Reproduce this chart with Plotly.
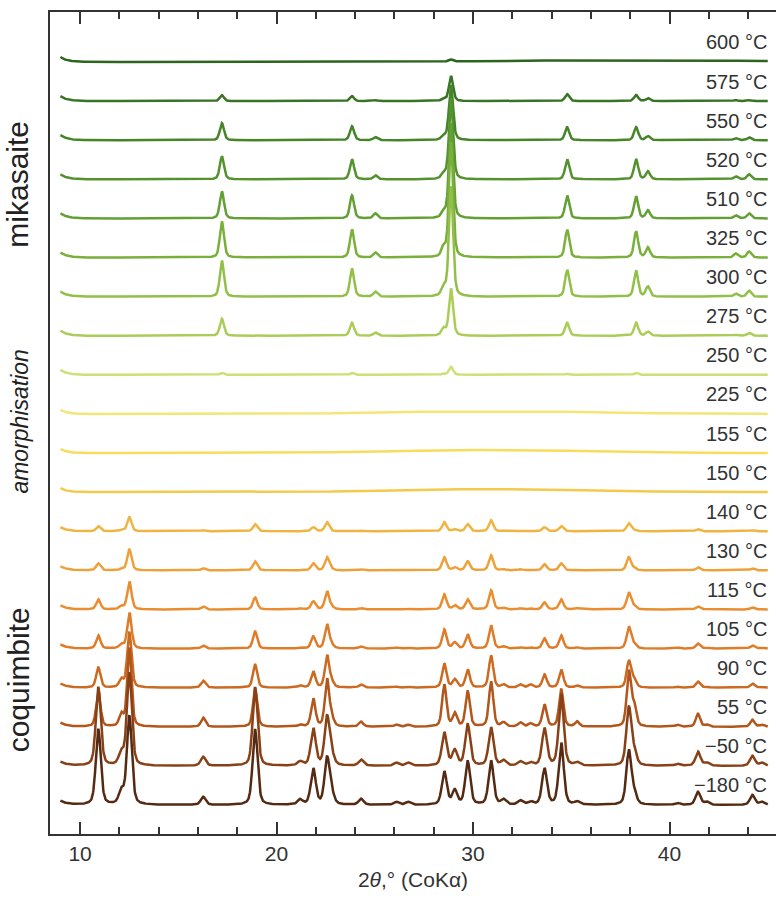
import numpy as np
import plotly.graph_objects as go

# ---------------- data ----------------
# temperatures, top to bottom
temps_mik = ["600 °C", "575 °C", "550 °C", "520 °C", "510 °C", "325 °C", "300 °C", "275 °C", "250 °C"]
temps_amo = ["225 °C", "155 °C", "150 °C"]
temps_coq = ["140 °C", "130 °C", "115 °C", "105 °C", "90 °C", "55 °C", "−50 °C", "−180 °C"]

# mikasaite reflections (2theta, CoKa) and intensities (a.u.)
mik_pos = [17.22, 23.84, 25.03, 28.50, 28.88, 34.79, 38.30, 38.90, 43.37, 44.05]
mik_600 = [0, 0, 0, 0, 2, 0, 0, 0, 0, 0]
mik_575 = [6, 5, 1, 2, 25, 7, 6, 3, 1, 1]
mik_550 = [17, 14, 3, 4, 55, 13, 13, 4, 2, 3]
mik_520 = [23, 20, 4, 5, 80, 20, 20, 8, 3, 5]
mik_510 = [27, 23, 5, 6, 95, 23, 22, 8, 3, 5]
mik_325 = [36, 28, 5, 9, 115, 28, 26, 10, 4, 6]
mik_300 = [36, 28, 5, 9, 110, 27, 26, 10, 3, 6]
mik_275 = [17, 13, 3, 7, 47, 13, 13, 4, 1, 3]
mik_250 = [2, 2, 0, 1, 8, 1, 2, 0, 0, 0]

# amorphous broad hump intensity
amo_hump = [3, 3, 3]

# coquimbite reflections and intensities (a.u.)
coq_pos = [10.93, 12.10, 12.51, 16.27, 18.91, 21.20, 21.87, 22.57, 22.80, 24.30,
           26.10, 26.70, 28.54, 29.07, 29.73, 30.92, 31.55, 32.41, 32.92, 33.64,
           34.49, 35.30, 37.93, 38.20, 40.40, 41.45, 41.90, 44.22, 44.70]
coq_140 = [5, 1, 14, 1, 7, 0, 4, 9, 0, 0.5, 0, 0, 9, 2, 7, 11, 0.5, 0.5, 0, 4, 5, 0, 8, 1, 0, 2, 0, 1, 0]
coq_130 = [7, 1, 21, 2, 9, 0, 7, 13, 1, 1, 0, 0, 13, 3, 9, 15, 1, 1, 0.5, 6, 7, 0.5, 13, 2, 0, 3, 0, 2, 0]
coq_115 = [10, 3, 28, 3, 12, 1, 8, 18, 2, 1.5, 0.5, 0.5, 15, 4, 10, 19, 1.5, 1, 1, 7, 10, 1, 17, 3, 0.5, 3, 0.5, 2, 0.5]
coq_105 = [13, 4, 36, 3, 17, 1, 12, 24, 3, 2, 1, 1, 19, 6, 14, 23, 2, 1, 1, 10, 13, 1, 22, 4, 1, 5, 1, 3, 1]
coq_90 = [20, 8, 55, 7, 23, 2, 16, 32, 5, 3, 1, 1, 24, 8, 18, 32, 3, 3, 3, 13, 18, 2, 27, 8, 1, 6, 1, 4, 1]
coq_55 = [36, 12, 78, 9, 38, 2, 28, 47, 8, 5, 2, 2, 42, 13, 35, 45, 4, 4, 3, 22, 37, 5, 55, 20, 2, 13, 2, 7, 2]
coq_m50 = [78, 12, 92, 9, 78, 4, 37, 48, 10, 6, 3, 3, 33, 15, 41, 38, 5, 4, 3, 37, 72, 3, 58, 12, 2, 14, 3, 10, 3]
coq_m180 = [75, 13, 88, 8, 75, 5, 36, 46, 10, 6, 3, 3, 33, 14, 43, 44, 5, 4, 3, 36, 62, 3, 54, 10, 2, 13, 3, 10, 3]

colors = ["#2d641e", "#387423", "#458428", "#53922e", "#62a034", "#7aaf3c", "#92bf48", "#abcd58", "#cde074",
          "#f2e677", "#f6dd5c", "#f4c94c",
          "#f0b442", "#eda13a", "#e88d30", "#df7c2a", "#cd6a22", "#b2561c", "#884016", "#552a12"]

# ---------------- build patterns ----------------
x = np.arange(9.0, 45.0001, 0.02)
SCALE = 1 / 39.1  # a.u. -> offset units


def profile(pos, amp, fwhm):
    y = np.zeros_like(x)
    for p, a in zip(pos, amp):
        if a == 0:
            continue
        g = np.exp(-4 * np.log(2) * ((x - p) / fwhm) ** 2)
        l = 1 / (1 + 4 * ((x - p) / fwhm) ** 2)
        y += a * (0.6 * g + 0.4 * l)
    return y


def lowangle(a=5):
    return a * np.exp(-(x - 9.0) / 0.35)


patterns = []
mik_sets = [mik_600, mik_575, mik_550, mik_520, mik_510, mik_325, mik_300, mik_275, mik_250]
for i, amps in enumerate(mik_sets):
    y = profile(mik_pos, amps, 0.25) + lowangle()
    if i == 0:
        y += 2 * np.exp(-((x - 38) / 8) ** 2)
    patterns.append(y)
for h in amo_hump:
    y = h * np.exp(-((x - 31) / 7) ** 2) + lowangle(4)
    patterns.append(y)
coq_sets = [coq_140, coq_130, coq_115, coq_105, coq_90, coq_55, coq_m50, coq_m180]
for i, amps in enumerate(coq_sets):
    w = 0.26 if i < 6 else 0.3
    y = profile(coq_pos, amps, w) + lowangle(4)
    patterns.append(y)

labels = temps_mik + temps_amo + temps_coq
n = len(labels)

font_f = "Liberation Sans, Arial, sans-serif"

fig = go.Figure()
for k, (lab, y) in enumerate(zip(labels, patterns)):
    off = n - 1 - k
    fig.add_trace(go.Scatter(x=x, y=off + y * SCALE, mode="lines",
                             line=dict(color=colors[k], width=2.5), name=lab,
                             showlegend=False, hoverinfo="skip"))
    fig.add_annotation(x=0.99, xref="paper", y=off + 0.5, yref="y", text=lab,
                       showarrow=False, xanchor="right", yanchor="middle",
                       font=dict(size=20, color="#333333"))

fig.add_annotation(x=-0.044, xref="paper", y=0.79, yref="paper", text="mikasaite",
                   textangle=-90, showarrow=False, xanchor="center", yanchor="middle",
                   font=dict(size=30, color="#222222"))
fig.add_annotation(x=-0.041, xref="paper", y=0.502, yref="paper", text="<i>amorphisation</i>",
                   textangle=-90, showarrow=False, xanchor="center", yanchor="middle",
                   font=dict(size=23, color="#222222"))
fig.add_annotation(x=-0.044, xref="paper", y=0.187, yref="paper", text="coquimbite",
                   textangle=-90, showarrow=False, xanchor="center", yanchor="middle",
                   font=dict(size=30, color="#222222"))

fig.update_layout(
    width=776, height=899,
    margin=dict(l=50, r=0, t=12, b=65),
    paper_bgcolor="white", plot_bgcolor="white",
    font=dict(family=font_f, color="#333333"),
    xaxis=dict(range=[8.47, 45.42], showgrid=False, zeroline=False,
               showline=True, linecolor="#333333", linewidth=2, mirror="ticks",
               ticks="inside", ticklen=12, tickwidth=2, tickcolor="#333333",
               tickvals=[10, 20, 30, 40], tickfont=dict(size=21, color="#333333"),
               minor=dict(dtick=2, tick0=0, ticks="inside", ticklen=7, tickwidth=1.5, tickcolor="#333333"),
               title=dict(text="2<i>θ</i>,° (CoKα)", font=dict(size=21, color="#333333"), standoff=8)),
    yaxis=dict(range=[-0.742, 20.279], showgrid=False, zeroline=False, showticklabels=False,
               showline=True, linecolor="#333333", linewidth=2, ticks=""),
)

fig.write_html("out.html")
